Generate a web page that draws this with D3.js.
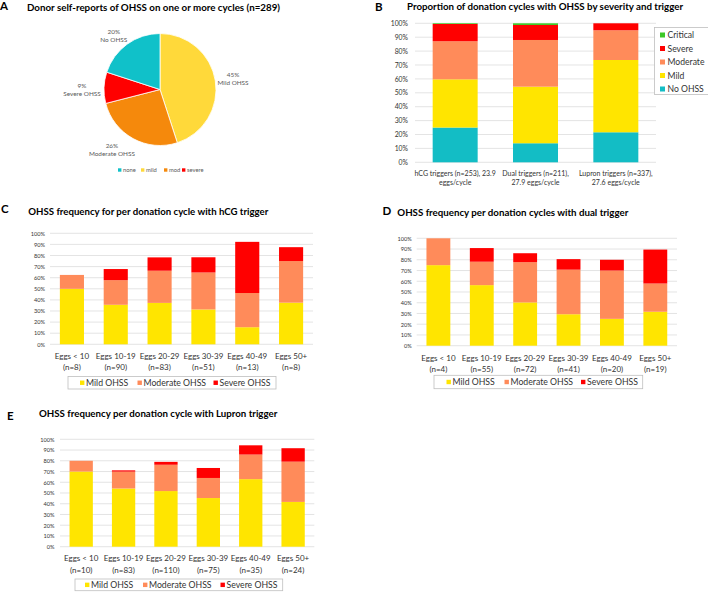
<!DOCTYPE html>
<html><head><meta charset="utf-8">
<script src="https://cdn.jsdelivr.net/npm/d3@7"></script>
<style>
body{margin:0;background:#fff}
svg{display:block}
text{font-family:Lato,"Open Sans","Liberation Sans",sans-serif}
</style>
</head><body>
<svg id="chart" width="708" height="592"></svg>
<script>
// ---------------- DATA ----------------
// Panel A (pie)
const pieKeys = ["mild", "mod", "severe", "none"];          // clockwise from 12 o'clock
const pieNames = ["Mild OHSS", "Moderate OHSS", "Severe OHSS", "No OHSS"];
const pieValues = [45, 26, 9, 20];
const pieLegendKeys = ["none", "mild", "mod", "severe"];

// Panel B
const triggerLine1 = ["hCG triggers (n=253), 23.9", "Dual triggers (n=211),", "Lupron triggers (n=337),"];
const triggerLine2 = ["eggs/cycle", "27.9 eggs/cycle", "27.6 eggs/cycle"];
const bSeriesNames = ["No OHSS", "Mild", "Moderate", "Severe", "Critical"];
const bNoOHSS   = [25.0, 13.7, 21.6];
const bMild     = [34.7, 40.7, 52.0];
const bModerate = [27.4, 33.6, 21.4];
const bSevere   = [12.4, 10.8, 5.0];
const bCritical = [0.5, 1.2, 0.0];

// Panels C, D, E
const eggCats = ["Eggs < 10", "Eggs 10-19", "Eggs 20-29", "Eggs 30-39", "Eggs 40-49", "Eggs 50+"];
const cdeSeriesNames = ["Mild OHSS", "Moderate OHSS", "Severe OHSS"];

const cN        = ["(n=8)", "(n=90)", "(n=83)", "(n=51)", "(n=13)", "(n=8)"];
const cMild     = [50.0, 35.6, 37.3, 31.4, 15.4, 37.5];
const cModerate = [12.5, 22.2, 29.0, 33.3, 30.8, 37.5];
const cSevere   = [0.0, 10.0, 12.0, 13.7, 46.1, 12.5];

const dN        = ["(n=4)", "(n=55)", "(n=72)", "(n=41)", "(n=20)", "(n=19)"];
const dMild     = [75.0, 56.4, 40.3, 29.3, 25.0, 31.6];
const dModerate = [25.0, 21.8, 37.5, 41.5, 45.0, 26.3];
const dSevere   = [0.0, 12.7, 8.3, 9.8, 10.0, 31.6];

const eN        = ["(n=10)", "(n=83)", "(n=110)", "(n=75)", "(n=35)", "(n=24)"];
const eMild     = [70.0, 54.2, 51.8, 45.3, 62.9, 41.7];
const eModerate = [10.0, 15.7, 24.5, 18.7, 22.9, 37.5];
const eSevere   = [0.0, 1.2, 2.7, 9.3, 8.6, 12.5];

const yTicks = [0, 10, 20, 30, 40, 50, 60, 70, 80, 90, 100];

// ---------------- STYLE ----------------
const COL = {
  teal: "#13BDC5", yellow: "#FFE500", moderate: "#FF8B5A", severe: "#FF0000", critical: "#3CC825",
  pieTeal: "#10C1C9", pieYellow: "#FFD93A", pieOrange: "#F5890C", pieRed: "#FF0000",
  grid: "#D9D9D9", tick: "#333333", legendBox: "#BFBFBF"
};
const pieColor = {none: COL.pieTeal, mild: COL.pieYellow, mod: COL.pieOrange, severe: COL.pieRed};

const svg = d3.select("#chart");

function title(x, y, txt, size, len) {
  svg.append("text").attr("x", x).attr("y", y).attr("font-size", size).attr("font-weight", 700)
    .attr("fill", "#000").attr("textLength", len).attr("lengthAdjust", "spacingAndGlyphs").text(txt);
}
function letter(x, y, txt) {
  svg.append("text").attr("x", x).attr("y", y).attr("font-size", 11.5).attr("font-weight", 700)
    .attr("font-family", "Arial, 'Liberation Sans', sans-serif").attr("fill", "#000").text(txt);
}

// ---------------- PANEL A ----------------
letter(0, 10, "A");
title(27, 11, "Donor self-reports of OHSS on one or more cycles (n=289)", 10, 253);

(function () {
  const cx = 160, cy = 89.5, r = 56;
  const nudge = {mild: [-1, 0], mod: [-9, 0], severe: [0, 2], none: [-4, 2]};
  const g = svg.append("g").attr("transform", `translate(${cx},${cy})`);
  const data = pieKeys.map((k, i) => ({key: k, name: pieNames[i], value: pieValues[i]}));
  const arcs = d3.pie().sort(null).value(d => d.value)(data);
  const arc = d3.arc().innerRadius(0).outerRadius(r);
  g.selectAll("path").data(arcs).join("path")
    .attr("d", arc).attr("fill", d => pieColor[d.data.key])
    .attr("stroke", "#fff").attr("stroke-width", 0.8);
  arcs.forEach(a => {
    const ang = (a.startAngle + a.endAngle) / 2;
    const ux = Math.sin(ang), uy = -Math.cos(ang);
    const w = a.data.name.length * 3.1, h = 16;
    const n = nudge[a.data.key];
    const px = ux * (r + 5) + ux * w / 2 + n[0], py = uy * (r + 5) + uy * h / 2 + n[1];
    const t = g.append("text").attr("text-anchor", "middle").attr("font-size", 6.4).attr("fill", "#595959");
    t.append("tspan").attr("x", px).attr("y", py - 1.5).text(a.data.value + "%");
    t.append("tspan").attr("x", px).attr("y", py + 6.5).text(a.data.name);
  });
  // legend
  const lg = svg.append("g").attr("transform", "translate(118,170)");
  const xs = [0, 23, 46, 64];
  pieLegendKeys.forEach((k, i) => {
    lg.append("rect").attr("x", xs[i]).attr("y", -1.7).attr("width", 3.4).attr("height", 3.4).attr("fill", pieColor[k]);
    lg.append("text").attr("x", xs[i] + 5).attr("y", 2).attr("font-size", 5.8).attr("fill", "#595959").text(k);
  });
})();

// ---------------- STACKED BAR HELPER ----------------
function stackedBars(o) {
  const g = svg.append("g");
  const x = d3.scaleBand().domain(o.cats).range(o.xRange).paddingInner(o.pad).paddingOuter(o.pad / 2);
  const y = d3.scaleLinear().domain([0, 100]).range(o.yRange);
  // gridlines
  g.selectAll("line.grid").data(yTicks).join("line")
    .attr("x1", o.xRange[0]).attr("x2", o.xRange[1])
    .attr("y1", d => y(d)).attr("y2", d => y(d))
    .attr("stroke", COL.grid).attr("stroke-width", 0.7);
  // y axis labels
  const ax = g.append("g").attr("transform", `translate(${o.xRange[0]},0)`)
    .call(d3.axisLeft(y).tickValues(yTicks).tickFormat(d => d + "%").tickSize(0).tickPadding(o.tickPad));
  ax.select(".domain").remove();
  ax.selectAll("text").attr("font-size", o.tickFont).attr("fill", COL.tick)
    .attr("font-family", "Lato, 'Open Sans', sans-serif");
  // stack
  const rows = o.cats.map((c, i) => {
    const r = {cat: c};
    o.series.forEach(s => r[s.name] = s.values[i]);
    return r;
  });
  const stack = d3.stack().keys(o.series.map(s => s.name))(rows);
  const colorOf = Object.fromEntries(o.series.map(s => [s.name, s.color]));
  g.selectAll("g.layer").data(stack).join("g").attr("fill", d => colorOf[d.key])
    .selectAll("rect").data(d => d).join("rect")
    .attr("x", d => x(d.data.cat)).attr("width", x.bandwidth())
    .attr("y", d => y(d[1])).attr("height", d => Math.max(0, y(d[0]) - y(d[1])));
  // x labels
  o.cats.forEach((c, i) => {
    const t = g.append("text").attr("text-anchor", "middle").attr("font-size", o.labelFont).attr("fill", COL.tick);
    const cx = x(c) + x.bandwidth() / 2;
    t.append("tspan").attr("x", cx).attr("y", o.labelY[0]).text(o.line1[i]);
    t.append("tspan").attr("x", cx).attr("y", o.labelY[1]).text(o.line2[i]);
  });
  return {x, y};
}

function bottomLegend(box, items) {
  const g = svg.append("g");
  g.append("rect").attr("x", box[0]).attr("y", box[1]).attr("width", box[2]).attr("height", box[3])
    .attr("fill", "#fff").attr("stroke", COL.legendBox).attr("stroke-width", 0.8);
  const cy = box[1] + box[3] / 2;
  items.forEach(it => {
    g.append("rect").attr("x", it.x).attr("y", cy - 2.2).attr("width", 4.4).attr("height", 4.4).attr("fill", it.color);
    g.append("text").attr("x", it.x + 6).attr("y", cy + 3.1).attr("font-size", 8.7).attr("fill", COL.tick).text(it.name);
  });
}

// ---------------- PANEL B ----------------
letter(375, 11, "B");
title(407, 9.5, "Proportion of donation cycles with OHSS by severity and trigger", 9.6, 276);
const bColors = [COL.teal, COL.yellow, COL.moderate, COL.severe, COL.critical];
const bValues = [bNoOHSS, bMild, bModerate, bSevere, bCritical];
stackedBars({
  cats: triggerLine1, xRange: [415, 656], yRange: [162.3, 23.3], pad: 0.44,
  tickPad: 7, tickFont: 6.8, labelFont: 7.0, labelY: [175.5, 184.5],
  line1: triggerLine1, line2: triggerLine2,
  series: bSeriesNames.map((n, i) => ({name: n, values: bValues[i], color: bColors[i]}))
});
(function () {
  const g = svg.append("g");
  g.append("rect").attr("x", 654.5).attr("y", 27.5).attr("width", 60).attr("height", 67)
    .attr("fill", "#fff").attr("stroke", COL.legendBox).attr("stroke-width", 0.8);
  const order = [4, 3, 2, 1, 0];
  order.forEach((si, j) => {
    const cy = 35 + j * 13.5;
    g.append("rect").attr("x", 660).attr("y", cy - 2.5).attr("width", 5).attr("height", 5).attr("fill", bColors[si]);
    g.append("text").attr("x", 667.5).attr("y", cy + 3).attr("font-size", 8.6).attr("fill", COL.tick).text(bSeriesNames[si]);
  });
})();

// ---------------- PANELS C, D, E ----------------
const cdeColors = [COL.yellow, COL.moderate, COL.severe];

letter(1, 212.5, "C");
title(28.3, 215, "OHSS frequency for per donation cycle with hCG trigger", 9.2, 240);
stackedBars({
  cats: eggCats, xRange: [50, 313], yRange: [344.3, 233.3], pad: 0.45,
  tickPad: 5, tickFont: 5.6, labelFont: 8.0, labelY: [359.4, 369.7],
  line1: eggCats, line2: cN,
  series: cdeSeriesNames.map((n, i) => ({name: n, values: [cMild, cModerate, cSevere][i], color: cdeColors[i]}))
});
bottomLegend([68, 376.5, 208, 12.5], [
  {x: 80, name: cdeSeriesNames[0], color: cdeColors[0]},
  {x: 137.5, name: cdeSeriesNames[1], color: cdeColors[1]},
  {x: 213.5, name: cdeSeriesNames[2], color: cdeColors[2]}
]);

letter(382.5, 215, "D");
title(397.3, 216, "OHSS frequency per donation cycles with dual trigger", 9.2, 231);
stackedBars({
  cats: eggCats, xRange: [416.7, 677], yRange: [345.7, 238.3], pad: 0.45,
  tickPad: 5, tickFont: 5.6, labelFont: 8.0, labelY: [360.8, 372.2],
  line1: eggCats, line2: dN,
  series: cdeSeriesNames.map((n, i) => ({name: n, values: [dMild, dModerate, dSevere][i], color: cdeColors[i]}))
});
bottomLegend([434, 375.3, 208.7, 13.4], [
  {x: 446.5, name: cdeSeriesNames[0], color: cdeColors[0]},
  {x: 504.5, name: cdeSeriesNames[1], color: cdeColors[1]},
  {x: 581, name: cdeSeriesNames[2], color: cdeColors[2]}
]);

letter(7, 420, "E");
title(39, 416.7, "OHSS frequency per donation cycle with Lupron trigger", 9.2, 238.3);
stackedBars({
  cats: eggCats, xRange: [60, 314.3], yRange: [546.7, 439.3], pad: 0.45,
  tickPad: 5.5, tickFont: 5.6, labelFont: 8.0, labelY: [561.4, 573.2],
  line1: eggCats, line2: eN,
  series: cdeSeriesNames.map((n, i) => ({name: n, values: [eMild, eModerate, eSevere][i], color: cdeColors[i]}))
});
bottomLegend([75, 579, 207.7, 11.7], [
  {x: 85, name: cdeSeriesNames[0], color: cdeColors[0]},
  {x: 143, name: cdeSeriesNames[1], color: cdeColors[1]},
  {x: 220.5, name: cdeSeriesNames[2], color: cdeColors[2]}
]);
</script>
</body></html>
